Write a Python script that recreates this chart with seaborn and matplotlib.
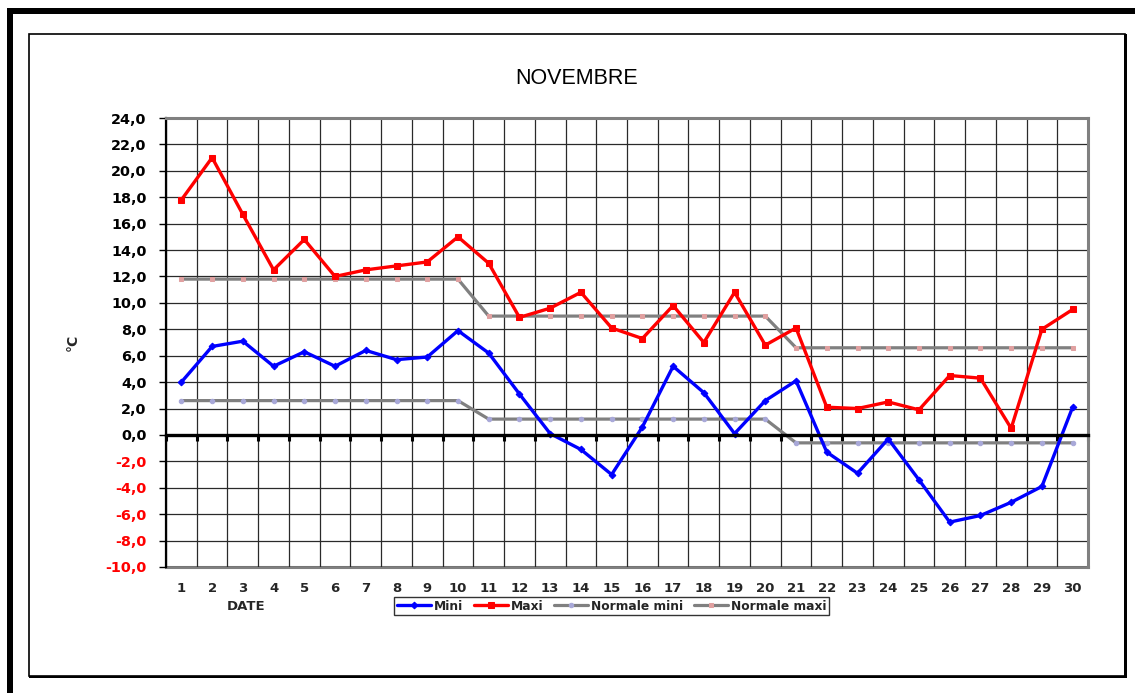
import numpy as np
import pandas as pd
import matplotlib
matplotlib.use("Agg")
import matplotlib.pyplot as plt
from matplotlib.patches import Rectangle
import seaborn as sns

# Daily temperatures for November
jours = list(range(1, 31))
mini = [4.0, 6.7, 7.1, 5.2, 6.3, 5.2, 6.4, 5.7, 5.9, 7.9,
        6.2, 3.1, 0.1, -1.1, -3.0, 0.6, 5.2, 3.2, 0.1, 2.6,
        4.1, -1.3, -2.9, -0.3, -3.4, -6.6, -6.1, -5.1, -3.9, 2.1]
maxi = [17.8, 21.0, 16.7, 12.5, 14.8, 12.0, 12.5, 12.8, 13.1, 15.0,
        13.0, 8.9, 9.6, 10.8, 8.1, 7.3, 9.8, 7.0, 10.8, 6.8,
        8.1, 2.1, 2.0, 2.5, 1.9, 4.5, 4.3, 0.5, 8.0, 9.5]
normale_mini = [2.6] * 10 + [1.2] * 10 + [-0.6] * 10
normale_maxi = [11.8] * 10 + [9.0] * 10 + [6.6] * 10

y_ticks = list(range(-10, 25, 2))

df = pd.DataFrame({"Jour": jours, "Mini": mini, "Maxi": maxi,
                   "Normale mini": normale_mini, "Normale maxi": normale_maxi})

sns.set_theme(style="white")
plt.rcParams["font.family"] = ["DejaVu Sans"]
BOLD = {"family": "DejaVu Sans", "weight": "bold"}

W, H = 1135, 693
fig = plt.figure(figsize=(W / 100, H / 100), dpi=100)
fig.patch.set_facecolor("white")

# plot area placement (pixels -> figure fraction)
L, R, T, B = 166, 1088, 118, 567
ax = fig.add_axes([L / W, 1 - B / H, (R - L) / W, (B - T) / H])
ax.set_facecolor("white")

# normals first so the measured series sit on top
sns.lineplot(data=df, x="Jour", y="Normale mini", ax=ax, color="#808080",
             lw=2.3, marker="o", markersize=3.2, markerfacecolor="#a8a8d8",
             markeredgecolor="#a8a8d8", label="Normale mini", zorder=3)
sns.lineplot(data=df, x="Jour", y="Normale maxi", ax=ax, color="#808080",
             lw=2.3, marker="s", markersize=3.0, markerfacecolor="#e0a0a0",
             markeredgecolor="#e0a0a0", label="Normale maxi", zorder=3)
sns.lineplot(data=df, x="Jour", y="Mini", ax=ax, color="#0000ff",
             lw=2.4, marker="D", markersize=3.4, markeredgecolor="#0000ff",
             label="Mini", zorder=4)
sns.lineplot(data=df, x="Jour", y="Maxi", ax=ax, color="#ff0000",
             lw=2.4, marker="s", markersize=4.0, markeredgecolor="#ff0000",
             label="Maxi", zorder=4)

ax.set_xlim(0.5, 30.5)
ax.set_ylim(-10, 24)

# category boundaries carry the vertical grid and the ticks on the zero line
bounds = np.arange(0.5, 31, 1.0)
ax.set_xticks(bounds)
ax.set_xticklabels([])
ax.tick_params(axis="x", direction="out", length=4, width=2.2, color="black",
               bottom=True)
ax.set_yticks(y_ticks)
ax.set_yticklabels([f"{v:.1f}".replace(".", ",") for v in y_ticks])
for lab, v in zip(ax.get_yticklabels(), y_ticks):
    lab.set_color("#ff0000" if v < 0 else "black")
    lab.set_fontproperties(BOLD)
    lab.set_fontsize(10.4)
ax.tick_params(axis="y", direction="out", length=5, width=1, color="black",
               left=True, pad=9)

ax.grid(True, which="major", color="#2a2a2a", lw=0.9)
ax.set_axisbelow(True)

# axis lines
ax.spines["bottom"].set_position(("data", 0))
ax.spines["bottom"].set_color("black")
ax.spines["bottom"].set_linewidth(2.4)
ax.spines["bottom"].set_zorder(5)
ax.spines["left"].set_color("black")
ax.spines["left"].set_linewidth(1.6)
for s in ("top", "right"):
    ax.spines[s].set_color("#808080")
    ax.spines[s].set_linewidth(2.2)

# day labels along the bottom edge
secax = ax.secondary_xaxis(0)
secax.set_xticks(jours)
secax.set_xticklabels([str(j) for j in jours])
for lab in secax.get_xticklabels():
    lab.set_fontproperties(BOLD)
    lab.set_fontsize(9.5)
secax.tick_params(length=0, pad=11)
secax.spines["bottom"].set_color("#808080")
secax.spines["bottom"].set_linewidth(2.2)

fig.text(246 / W, 1 - 606 / H, "DATE", ha="center", va="center",
         fontsize=9.5, **BOLD)

ax.set_xlabel("")
ax.set_ylabel("°C", fontsize=10, rotation=90, **BOLD)
ax.yaxis.set_label_coords((80 - L) / (R - L), 0.5)

fig.text(577 / W, 1 - 78 / H, "NOVEMBRE", ha="center", va="center",
         fontsize=15.5, family="Liberation Sans", color="black")

# legend below the plot, in series order
handles, labels = ax.get_legend_handles_labels()
order = ["Mini", "Maxi", "Normale mini", "Normale maxi"]
hmap = dict(zip(labels, handles))
if ax.get_legend() is not None:
    ax.get_legend().remove()
leg = fig.legend([hmap[k] for k in order], order, loc="center",
                 bbox_to_anchor=(611.5 / W, 1 - 606 / H), ncol=4, frameon=True,
                 fancybox=False, edgecolor="black", handlelength=2.8,
                 handletextpad=0.2, columnspacing=0.9, borderpad=0.2,
                 prop={"family": "DejaVu Sans", "weight": "bold", "size": 8.8})
leg.get_frame().set_linewidth(1.0)

# chart frame: thick outer bars and inner box with shadow
def px_rect(x0, y0, x1, y1, **kw):
    fig.patches.append(Rectangle((x0 / W, 1 - y1 / H), (x1 - x0) / W,
                                 (y1 - y0) / H, transform=fig.transFigure,
                                 figure=fig, **kw))

px_rect(7, 8, W, 13.5, facecolor="black", edgecolor="none")
px_rect(7, 8, 13, H, facecolor="black", edgecolor="none")
px_rect(29, 33.5, 1124.5, 676, facecolor="none", edgecolor="black", lw=1.2)
px_rect(1123.5, 33.5, 1126.5, 678, facecolor="black", edgecolor="none")
px_rect(29, 675.5, 1126.5, 678, facecolor="black", edgecolor="none")

fig.savefig("out.png", dpi=100, facecolor="white")
